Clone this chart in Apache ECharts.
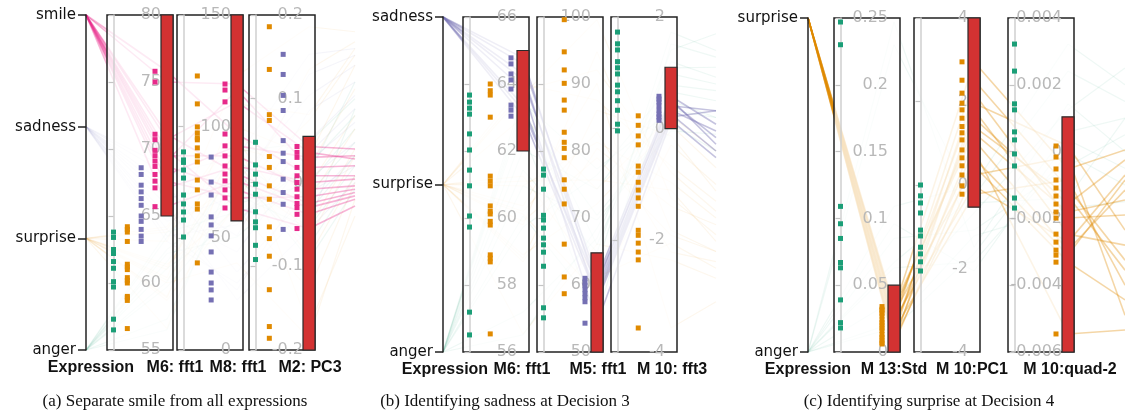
<!DOCTYPE html>
<html>
<head>
<meta charset="utf-8">
<script src="https://cdn.jsdelivr.net/npm/echarts@6/dist/echarts.min.js"></script>
<style>
html,body{margin:0;padding:0;background:#fff}
#container{width:1125px;height:419px}
</style>
</head>
<body>
<div id="container"></div>
<script>
var colors = {anger: '#1b9e77', surprise: '#e08a00', sadness: '#7570b3', smile: '#e7298a'};

// ---- (a) smile vs all ----  (same index = same sample across features)
var aClasses = ['anger', 'surprise', 'sadness', 'smile'];
var aM6 = {
    anger:    [63.8, 63.4, 62.5, 62.2, 61.6, 61.1, 60.1, 59.7, 57.3, 56.5],
    surprise: [64.2, 63.8, 63.1, 61.4, 61.0, 60.4, 60.0, 59.0, 58.7, 56.6, 64.0, 61.2, 60.2, 58.9],
    sadness:  [68.6, 68.1, 67.3, 66.8, 66.3, 65.8, 65.0, 64.6, 64.0, 63.5, 63.1],
    smile:    [75.8, 75.0, 71.1, 70.7, 69.9, 69.5, 69.1, 68.7, 68.1, 67.6, 67.1, 65.7]
};
var aM8 = {
    anger:    [61.8, 88.7, 69.4, 50.6, 80.6, 58.2, 85.1, 65.4, 77.0, 84.0],
    surprise: [99.9, 76.1, 122.7, 63.1, 90.5, 110.2, 39.0, 86.9, 65.4, 94.1, 97.2, 84.2, 71.7, 95.0],
    sadness:  [59.6, 86.4, 34.9, 51.1, 75.2, 22.4, 43.9, 69.4, 26.9, 56.0, 30.0],
    smile:    [96.7, 119.1, 78.8, 111.1, 63.6, 86.9, 116.4, 71.7, 91.4, 68.1, 82.4, 75.7]
};
var aM2 = {
    anger:    [-0.014, 0.048, -0.054, 0.010, -0.092, 0.021, -0.035, -0.002, -0.075, -0.047],
    surprise: [0.031, -0.053, 0.186, -0.128, 0.018, 0.081, -0.186, -0.004, 0.135, -0.067, -0.020, -0.088, 0.074, -0.172],
    sadness:  [0.025, 0.153, -0.012, 0.086, 0.104, -0.056, 0.035, 0.129, 0.004, 0.050, -0.026],
    smile:    [0.008, 0.043, -0.025, 0.036, -0.055, -0.008, 0.018, -0.038, 0.030, -0.017, 0.000, -0.030]
};
// where the lines leave the panel on the right (0 = bottom, 1 = top)
var aNext = {
    anger:    [0.62, 0.75, 0.55, 0.80, 0.48, 0.70, 0.58, 0.66, 0.52, 0.72],
    surprise: [0.85, 0.60, 0.95, 0.50, 0.78, 0.90, 0.45, 0.70, 0.92, 0.58, 0.66, 0.52, 0.88, 0.40],
    sadness:  [0.68, 0.90, 0.55, 0.80, 0.85, 0.50, 0.72, 0.88, 0.62, 0.76, 0.58],
    smile:    [0.52, 0.60, 0.47, 0.57, 0.43, 0.49, 0.55, 0.45, 0.58, 0.48, 0.51, 0.46]
};
var aBars = [[65, 80], [57.8, 150], [-0.2, 0.055]];

// ---- (b) sadness at decision 3 ----
var bClasses = ['anger', 'surprise', 'sadness'];
var bM6 = {
    anger:    [63.67, 63.46, 63.28, 63.10, 62.51, 62.03, 61.43, 60.96, 60.06, 59.73, 57.19, 56.51],
    surprise: [64.0, 63.67, 63.01, 61.25, 60.96, 60.36, 60.12, 59.79, 58.90, 58.69, 56.54, 63.8, 61.1, 60.2, 58.8, 59.9],
    sadness:  [64.78, 64.60, 64.30, 64.12, 63.85, 63.37, 63.22, 63.04]
};
var bM5 = {
    anger:    [66.0, 77.3, 62.8, 70.4, 55.1, 74.3, 64.9, 69.7, 56.6, 76.4, 67.0, 68.5],
    surprise: [87.6, 99.6, 74.3, 61.2, 81.3, 90.1, 58.7, 94.8, 72.1, 80.4, 66.1, 92.1, 75.7, 82.8, 86.1, 79.0],
    sadness:  [59.3, 61.0, 57.5, 60.4, 54.3, 58.7, 59.9, 58.1]
};
var bM10 = {
    anger:    [0.98, 0.33, 1.73, 0.08, 1.09, 0.66, 1.41, -0.04, 1.52, 0.78, 1.20, 0.50],
    surprise: [-0.67, -1.24, 0.23, -2.05, -0.96, -3.57, -0.29, -1.82, 0.06, -1.39, -2.35, -0.78, -1.10, -2.21, -0.13, -1.91],
    sadness:  [0.41, 0.58, 0.21, 0.48, 0.15, 0.33, 0.53, 0.26]
};
var bNext = {
    anger:    [0.80, 0.70, 0.90, 0.60, 0.85, 0.75, 0.95, 0.65, 0.88, 0.78, 0.82, 0.70],
    surprise: [0.45, 0.35, 0.60, 0.25, 0.40, 0.15, 0.50, 0.30, 0.55, 0.38, 0.22, 0.42, 0.33, 0.27, 0.48, 0.30],
    sadness:  [0.72, 0.68, 0.72, 0.64, 0.58, 0.66, 0.62, 0.60]
};
var bBars = [[62, 65], [50, 64.8], [0, 1.1]];

// ---- (c) surprise at decision 4 ----
var cClasses = ['anger', 'surprise'];
var cM13 = {
    anger:    [0.247, 0.230, 0.109, 0.096, 0.085, 0.067, 0.063, 0.039, 0.022, 0.018],
    surprise: [0.034, 0.032, 0.029, 0.027, 0.024, 0.022, 0.020, 0.018, 0.016, 0.013, 0.011, 0.009, 0.007, 0.006, 0.031]
};
var cPC1 = {
    anger:    [-1.49, -0.43, 0, -2.06, -1.08, -0.26, -1.84, -0.67, -1.22, -1.65],
    surprise: [1.25, 2.95, 0.46, 1.96, -0.02, 2.51, 0.84, 1.60, -0.22, 2.20, 1.08, 0.24, 1.80, 0.65, 1.40]
};
var cQuad2 = {
    anger:    [0.00143, -0.00139, 0.00322, 0.00035, -0.00043, 0.00241, -0.00007, 0.00125, -0.00169, 0.00059],
    surprise: [-0.00181, -0.00052, -0.00331, 0.000168, -0.00271, -0.00109, -0.00546, -0.00157, -0.00085, -0.00199, -0.00295, -0.000162, -0.00247, -0.0031, -0.00133]
};
var cNext = {
    anger:    [0.60, 0.70, 0.80, 0.55, 0.65, 0.75, 0.50, 0.85, 0.45, 0.70],
    surprise: [0.455, 0.605, 0.156, 0.365, 0.53, 0.275, 0.066, 0.575, 0.20, 0.41, 0.485, 0.11, 0.32, 0.515, 0.245]
};
var cBars = [[0, 0.05], [-0.53, 4], [-0.006, 0.00104]];

var panels = [
    {classes: aClasses, target: 'smile', exprX: 86, exprShift: 5, top: 15, bottom: 350, nextX: 355, next: aNext,
     caption: '(a) Separate smile from all expressions', captionX: 175,
     boxes: [
        {name: 'M6: fft1', left: 107, min: 55, max: 80, step: 5, values: aM6, bar: aBars[0], shift: 8},
        {name: 'M8: fft1', left: 177, min: 0, max: 150, step: 50, values: aM8, bar: aBars[1], shift: 1},
        {name: 'M2: PC3', left: 249, min: -0.2, max: 0.2, step: 0.1, values: aM2, bar: aBars[2], shift: 1}
     ]},
    {classes: bClasses, target: 'sadness', exprX: 443, exprShift: 2, top: 17, bottom: 352, nextX: 716, next: bNext,
     caption: '(b) Identifying sadness at Decision 3', captionX: 505,
     boxes: [
        {name: 'M6: fft1', left: 463, min: 56, max: 66, step: 2, values: bM6, bar: bBars[0], shift: -1},
        {name: 'M5: fft1', left: 537, min: 50, max: 100, step: 10, values: bM5, bar: bBars[1], shift: 1},
        {name: 'M 10: fft3', left: 611, min: -4, max: 2, step: 2, values: bM10, bar: bBars[2], shift: 1}
     ]},
    {classes: cClasses, target: 'surprise', exprX: 808, exprShift: 0, top: 18, bottom: 352, nextX: 1125, next: cNext,
     caption: '(c) Identifying surprise at Decision 4', captionX: 929,
     boxes: [
        {name: 'M 13:Std', left: 834, min: 0, max: 0.25, step: 0.05, values: cM13, bar: cBars[0], shift: 0},
        {name: 'M 10:PC1', left: 914, min: -4, max: 4, step: 2, values: cPC1, bar: cBars[1], shift: -2},
        {name: 'M 10:quad-2', left: 1008, min: -0.006, max: 0.004, step: 0.002, values: cQuad2, bar: cBars[2], shift: 2}
     ]}
];

var W = 1125, H = 419, BOX_W = 66, BAR_W = 12, AXIS_IN = 6;
var FONT = 'DejaVu Sans';
var hiddenAxis = {
    axisLine: {show: false, lineStyle: {color: 'rgba(0,0,0,0)'}},
    axisTick: {show: false, lineStyle: {color: 'rgba(0,0,0,0)'}},
    axisLabel: {show: false, color: 'rgba(0,0,0,0)'},
    splitLine: {show: false}
};

var grids = [], xAxes = [], yAxes = [], series = [], parallels = [], pAxes = [], graphics = [];

function axisName(text, x, p) {
    graphics.push({type: 'text', x: x, y: p.bottom + 18, z: 10,
                   style: {text: text, font: 'bold 16px "Liberation Sans"', fill: '#111',
                           align: 'center', verticalAlign: 'middle'}});
}

panels.forEach(function (p) {
    var h = p.bottom - p.top;
    // expression axis
    var gi = grids.length;
    grids.push({left: p.exprX, width: 1, top: p.top, height: h, show: false});
    xAxes.push({gridIndex: gi, type: 'value', show: false});
    yAxes.push({
        gridIndex: gi, type: 'category', data: p.classes, boundaryGap: false, position: 'left', z: 3,
        axisLine: {lineStyle: {color: '#222', width: 1.5}},
        axisTick: {length: 8, lineStyle: {color: '#222', width: 1.5}},
        axisLabel: {color: '#111', fontSize: 15, margin: 10, fontFamily: FONT}
    });
    axisName('Expression', p.exprX + p.exprShift, p);

    var axisX = [p.exprX];
    var dims = [{type: 'category', data: p.classes, get: function (c) { return c; }}];
    var n = p.classes.length;
    var u = (n - 1) / 41.5;

    p.boxes.forEach(function (b) {
        var gi = grids.length;
        grids.push({left: b.left, width: BOX_W, top: p.top, height: h, show: true, z: 2,
                    backgroundColor: 'rgba(255,255,255,0.72)', borderColor: '#222', borderWidth: 1.5});
        xAxes.push({gridIndex: gi, type: 'value', min: -6.5 * u, max: -6.5 * u + BOX_W * u, show: false});
        var yi = yAxes.length;
        yAxes.push({
            gridIndex: gi, type: 'value', min: b.min, max: b.max, interval: b.step,
            position: 'right', offset: -AXIS_IN, z: 3,
            axisLine: {show: true, lineStyle: {color: '#cfcfcf', width: 1.5}},
            axisTick: {show: true, inside: true, length: 5, lineStyle: {color: '#c4c4c4', width: 1.2}},
            axisLabel: {inside: true, margin: 6, color: '#b8b8b8', fontSize: 16, fontFamily: FONT,
                        showMinLabel: true, showMaxLabel: true},
            splitLine: {show: false}
        });
        p.classes.forEach(function (c, ci) {
            series.push({
                type: 'scatter', xAxisIndex: gi, yAxisIndex: yi, z: 4, silent: true,
                symbol: 'rect', symbolSize: [5, 5], itemStyle: {color: colors[c], opacity: 1},
                data: b.values[c].map(function (v) { return [ci, v]; })
            });
        });
        series.push({
            type: 'custom', xAxisIndex: gi, yAxisIndex: yi, z: 5, silent: true,
            data: [b.bar],
            renderItem: function (params, api) {
                var cs = params.coordSys;
                var yTop = api.coord([0, api.value(1)])[1];
                var yBot = api.coord([0, api.value(0)])[1];
                return {type: 'rect',
                        shape: {x: cs.x + cs.width - BAR_W, y: yTop, width: BAR_W, height: yBot - yTop},
                        style: {fill: '#d33232', stroke: '#2a2a2a', lineWidth: 1.2}};
            }
        });
        var ax = b.left + BOX_W - AXIS_IN;
        axisX.push(ax);
        axisName(b.name, ax + b.shift, p);
        dims.push({type: 'value', min: b.min, max: b.max, get: function (c, i) { return b.values[c][i]; }});
    });
    axisX.push(p.nextX);
    dims.push({type: 'value', min: 0, max: 1, get: function (c, i) { return p.next[c][i]; }});

    // polylines: one parallel system per gap between two axes
    for (var k = 0; k < dims.length - 1; k++) {
        var pi = parallels.length;
        parallels.push({left: axisX[k], right: W - axisX[k + 1], top: p.top, bottom: H - p.bottom,
                        layout: 'horizontal', parallelAxisDefault: hiddenAxis});
        [dims[k], dims[k + 1]].forEach(function (d, di) {
            var ax = {dim: di, parallelIndex: pi, type: d.type,
                      axisLine: hiddenAxis.axisLine, axisTick: hiddenAxis.axisTick,
                      axisLabel: hiddenAxis.axisLabel, splitLine: hiddenAxis.splitLine};
            if (d.type === 'category') { ax.data = d.data; ax.boundaryGap = false; }
            else { ax.min = d.min; ax.max = d.max; }
            pAxes.push(ax);
        });
        (function (A, B) {
            p.classes.forEach(function (c) {
                var cnt = p.boxes[0].values[c].length;
                var rows = [];
                for (var i = 0; i < cnt; i++) rows.push([A.get(c, i), B.get(c, i)]);
                var on = c === p.target;
                series.push({
                    type: 'parallel', parallelIndex: pi, z: 1, silent: true,
                    lineStyle: {color: colors[c], width: on ? 1.6 : 1.2, opacity: on ? (c === 'sadness' ? 0.42 : 0.35) : 0.07},
                    data: rows
                });
            });
        })(dims[k], dims[k + 1]);
    }

    graphics.push({type: 'text', x: p.captionX, y: 402,
                   style: {text: p.caption, font: '17px "Liberation Serif"', fill: '#111',
                           align: 'center', verticalAlign: 'middle'}});
});

var myChart = echarts.init(document.getElementById('container'));
myChart.setOption({
    animation: false,
    backgroundColor: '#fff',
    grid: grids,
    xAxis: xAxes,
    yAxis: yAxes,
    parallel: parallels,
    parallelAxis: pAxes,
    series: series,
    graphic: graphics
});
</script>
</body>
</html>
